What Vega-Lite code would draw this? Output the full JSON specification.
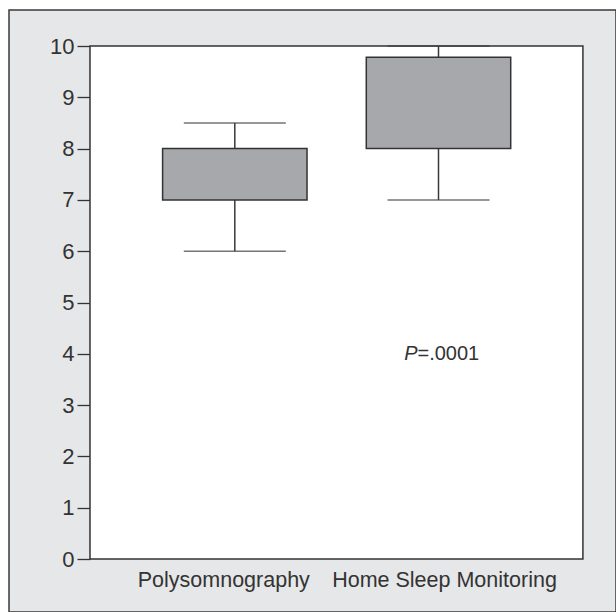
{
  "$schema": "https://vega.github.io/schema/vega-lite/v6.json",
  "autosize": {"type": "none"},
  "width": 607,
  "height": 602,
  "padding": {"left": 9, "top": 10, "right": 0, "bottom": 0},
  "background": "white",
  "config": {
    "view": {"fill": "#e6e7e8", "stroke": "#3a3a3a", "strokeWidth": 1.5},
    "font": "Liberation Sans"
  },
  "datasets": {
    "boxes": [
      {"group": "Polysomnography", "lower": 6, "q1": 7, "q3": 8, "upper": 8.5},
      {"group": "Home Sleep Monitoring", "lower": 7, "q1": 8, "q3": 9.78, "upper": 10}
    ],
    "notes": [
      {"group": "Home Sleep Monitoring", "value": 4, "p": "P", "rest": "=.0001"}
    ]
  },
  "data": {"name": "boxes"},
  "encoding": {
    "x": {
      "field": "group",
      "type": "nominal",
      "sort": ["Polysomnography", "Home Sleep Monitoring"],
      "scale": {"domain": ["Polysomnography", "Home Sleep Monitoring"], "paddingInner": 0, "paddingOuter": 0.49, "align": 0.621},
      "axis": {
        "title": null,
        "orient": "bottom",
        "offset": -53,
        "domain": false,
        "ticks": false,
        "labelAngle": 0,
        "labelFontSize": 21.5,
        "labelLimit": 0,
        "labelColor": "#333333",
        "labelPadding": 10,
        "labelOffset": {"condition": {"test": "datum.value === 'Polysomnography'", "value": -11}, "value": 6}
      }
    }
  },
  "layer": [
    {
      "data": {"values": [{}]},
      "mark": {"type": "rect", "fill": "white", "stroke": "#333333", "strokeWidth": 1.5},
      "encoding": {
        "x": {"datum": "Polysomnography", "type": "nominal", "bandPosition": -0.211},
        "x2": {"datum": "Home Sleep Monitoring", "bandPosition": 1.209},
        "y": {"datum": 0, "type": "quantitative"},
        "y2": {"datum": 10}
      }
    },
    {
      "mark": {"type": "rule", "color": "#3a3a3a", "strokeWidth": 1.5},
      "encoding": {
        "y": {
          "field": "lower",
          "type": "quantitative",
          "scale": {"domain": [-1.033, 10.702], "nice": false, "zero": false},
          "axis": {
            "title": null,
            "offset": -81,
            "values": [0, 1, 2, 3, 4, 5, 6, 7, 8, 9, 10],
            "domain": false,
            "grid": false,
            "tickSize": 13,
            "tickColor": "#333333",
            "tickWidth": 1.3,
            "labelFontSize": 22,
            "labelColor": "#333333",
            "labelPadding": 3
          }
        },
        "y2": {"field": "upper"}
      }
    },
    {
      "mark": {"type": "bar", "fill": "#a7a8ab", "stroke": "#333333", "strokeWidth": 1.5, "width": {"band": 0.709}},
      "encoding": {
        "y": {"field": "q1", "type": "quantitative"},
        "y2": {"field": "q3"}
      }
    },
    {
      "mark": {"type": "tick", "color": "#3a3a3a", "size": 102, "thickness": 1.5},
      "encoding": {"y": {"field": "upper", "type": "quantitative"}}
    },
    {
      "mark": {"type": "tick", "color": "#3a3a3a", "size": 102, "thickness": 1.5},
      "encoding": {"y": {"field": "lower", "type": "quantitative"}}
    },
    {
      "data": {"name": "notes"},
      "mark": {"type": "text", "align": "right", "baseline": "middle", "dx": -21, "fontSize": 20, "fontStyle": "italic", "color": "#333333"},
      "encoding": {
        "y": {"field": "value", "type": "quantitative"},
        "text": {"field": "p"}
      }
    },
    {
      "data": {"name": "notes"},
      "mark": {"type": "text", "align": "left", "baseline": "middle", "dx": -21, "fontSize": 20, "color": "#333333"},
      "encoding": {
        "y": {"field": "value", "type": "quantitative"},
        "text": {"field": "rest"}
      }
    }
  ]
}
